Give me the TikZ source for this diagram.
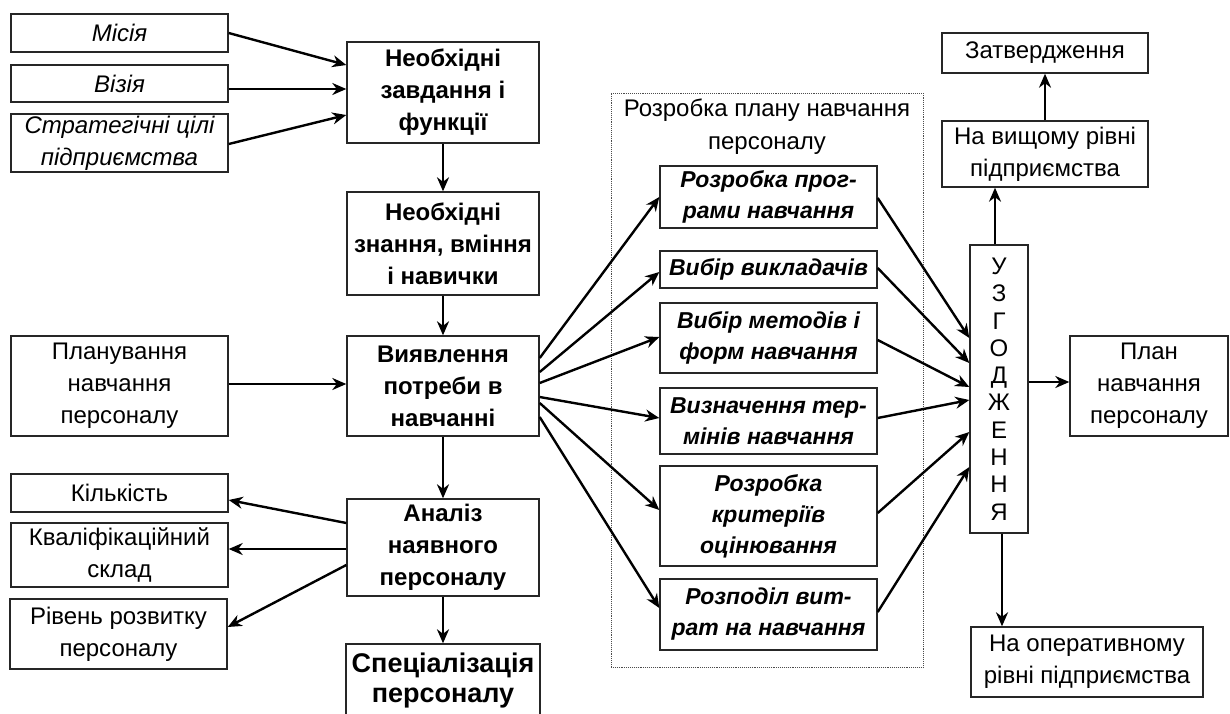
\documentclass[tikz,border=0pt]{standalone}
\usepackage{fontspec}
\setmainfont{Liberation Sans}
\usetikzlibrary{arrows.meta,calc}
\begin{document}
\begin{tikzpicture}[x=1pt,y=-1pt,
  box/.style={draw=black!85, line width=1.4pt, rectangle, align=center, inner sep=0pt, font=\fontsize{24}{32}\selectfont},
  bbox/.style={box, font=\fontsize{24}{32}\selectfont\bfseries},
  ibox/.style={box, font=\fontsize{24}{32}\selectfont\itshape},
  bibox/.style={box, font=\fontsize{23}{31}\selectfont\bfseries\itshape},
  arr/.style={-{Stealth[length=14pt,width=12pt,inset=4.5pt]}, line width=2.4pt},
  grpbox/.style={draw=black!70, densely dotted, line width=0.9pt, rectangle, inner sep=0pt}
  ]
\clip (0,0) rectangle (1230,713);
\fill[white] (0,0) rectangle (1230,713);

% left column
\node[ibox, minimum width=217pt, minimum height=38pt] (mis) at (119.5,33) {Місія};
\node[ibox, minimum width=217pt, minimum height=37pt] (viz) at (119.5,83.5) {Візія};
\node[ibox, minimum width=217pt, minimum height=58pt] (str) at (119.5,143) {Стратегічні цілі\\підприємства};
\node[box, minimum width=217pt, minimum height=100pt] (plan) at (119.5,386) {Планування\\навчання\\персоналу};
\node[box, minimum width=217pt, minimum height=38pt] (kil) at (119.5,493) {Кількість};
\node[box, minimum width=217pt, minimum height=64pt] (kval) at (119.5,555) {Кваліфікаційний\\склад};
\node[box, minimum width=217pt, minimum height=70pt] (riv) at (118.5,634) {Рівень розвитку\\персоналу};

% centre column
\node[bbox, minimum width=192pt, minimum height=101pt] (zav) at (443,92.5) {Необхідні\\завдання і\\функції};
\node[bbox, minimum width=192pt, minimum height=103pt] (zna) at (443,243.5) {Необхідні\\знання, вміння\\і навички};
\node[bbox, minimum width=192pt, minimum height=100pt] (vyav) at (443,386) {Виявлення\\потреби в\\навчанні};
\node[bbox, minimum width=192pt, minimum height=97pt] (anal) at (443,547.5) {Аналіз\\наявного\\персоналу};
\node[box, font=\fontsize{27}{30}\selectfont\bfseries, minimum width=194pt, minimum height=74pt] (spec) at (443,681) {Спеціалізація\\персоналу};

% group
\node[grpbox, minimum width=312pt, minimum height=574pt] (grp) at (767,380) {};
\node[font=\fontsize{24}{33}\selectfont, align=center, inner sep=0pt] (title) at (767,126.5) {Розробка плану навчання\\персоналу};
\node[bibox, minimum width=217pt, minimum height=62pt] (p1) at (768.5,197) {Розробка прог-\\рами навчання};
\node[bibox, minimum width=217pt, minimum height=37pt] (p2) at (768.5,269.5) {Вибір викладачів};
\node[bibox, minimum width=217pt, minimum height=70pt] (p3) at (768.5,338) {Вибір методів і\\форм навчання};
\node[bibox, minimum width=217pt, minimum height=66pt] (p4) at (768.5,421) {Визначення тер-\\мінів навчання};
\node[bibox, minimum width=217pt, minimum height=100pt] (p5) at (768.5,516) {Розробка\\критеріїв\\оцінювання};
\node[bibox, minimum width=217pt, minimum height=71pt] (p6) at (768.5,614.5) {Розподіл вит-\\рат на навчання};

% right column
\node[box, font=\fontsize{24}{27.3}\selectfont, minimum width=58pt, minimum height=288pt] (uzg) at (999,389) {У\\З\\Г\\О\\Д\\Ж\\Е\\Н\\Н\\Я};
\node[box, minimum width=206pt, minimum height=66pt] (vys) at (1045,154) {На вищому рівні\\підприємства};
\node[box, minimum width=206pt, minimum height=40pt] (zatv) at (1045,53) {Затвердження};
\node[box, minimum width=158pt, minimum height=100pt] (pln) at (1149,386) {План\\навчання\\персоналу};
\node[box, minimum width=232pt, minimum height=70pt] (oper) at (1087,662) {На оперативному\\рівні підприємства};

% arrows left to centre
\draw[arr] (mis.east) -- ($(zav.west)+(0,-27.5)$);
\draw[arr] ($(viz.east)+(0,5.5)$) -- ($(zav.west)+(0,-3.5)$);
\draw[arr] ($(str.east)+(0,1)$) -- ($(zav.west)+(0,22.5)$);
\draw[arr] (zav.south) -- (zna.north);
\draw[arr] (zna.south) -- (vyav.north);
\draw[arr] ($(plan.east)+(0,-2)$) -- ($(vyav.west)+(0,-2)$);
\draw[arr] (vyav.south) -- (anal.north);
\draw[arr] (anal.south) -- (spec.north);
\draw[arr] ($(anal.west)+(0,-24.5)$) -- ($(kil.east)+(0,7)$);
\draw[arr] ($(anal.west)+(0,1.5)$) -- ($(kval.east)+(0,-6)$);
\draw[arr] ($(anal.west)+(0,17.5)$) -- ($(riv.east)+(0,-7)$);

% centre to group
\draw[arr] ($(vyav.east)+(0,-28)$) -- (p1.west);
\draw[arr] ($(vyav.east)+(0,-14)$) -- ($(p2.west)+(0,2.5)$);
\draw[arr] ($(vyav.east)+(0,-3)$) -- ($(p3.west)+(0,-1)$);
\draw[arr] ($(vyav.east)+(0,11)$) -- ($(p4.west)+(0,-3)$);
\draw[arr] ($(vyav.east)+(0,17)$) -- ($(p5.west)+(0,-6)$);
\draw[arr] ($(vyav.east)+(0,31)$) -- ($(p6.west)+(0,-6.5)$);

% group to uzg
\draw[arr] ($(p1.east)+(0,1)$) -- ($(uzg.west)+(0,-51)$);
\draw[arr] ($(p2.east)+(0,-1.5)$) -- ($(uzg.west)+(0,-26)$);
\draw[arr] ($(p3.east)+(0,2)$) -- ($(uzg.west)+(0,-2)$);
\draw[arr] ($(p4.east)+(0,-3)$) -- ($(uzg.west)+(0,11)$);
\draw[arr] ($(p5.east)+(0,-3)$) -- ($(uzg.west)+(0,43)$);
\draw[arr] ($(p6.east)+(0,-2.5)$) -- ($(uzg.west)+(0,78)$);

% right column
\draw[arr] ($(uzg.east)+(0,-7)$) -- ($(pln.west)+(0,-4)$);
\coordinate (u1) at ($(uzg.north)+(-4,0)$);
\draw[arr] (u1) -- (u1 |- vys.south);
\draw[arr] (vys.north) -- (zatv.south);
\coordinate (u2) at ($(uzg.south)+(3,0)$);
\draw[arr] (u2) -- (u2 |- oper.north);
\end{tikzpicture}
\end{document}
